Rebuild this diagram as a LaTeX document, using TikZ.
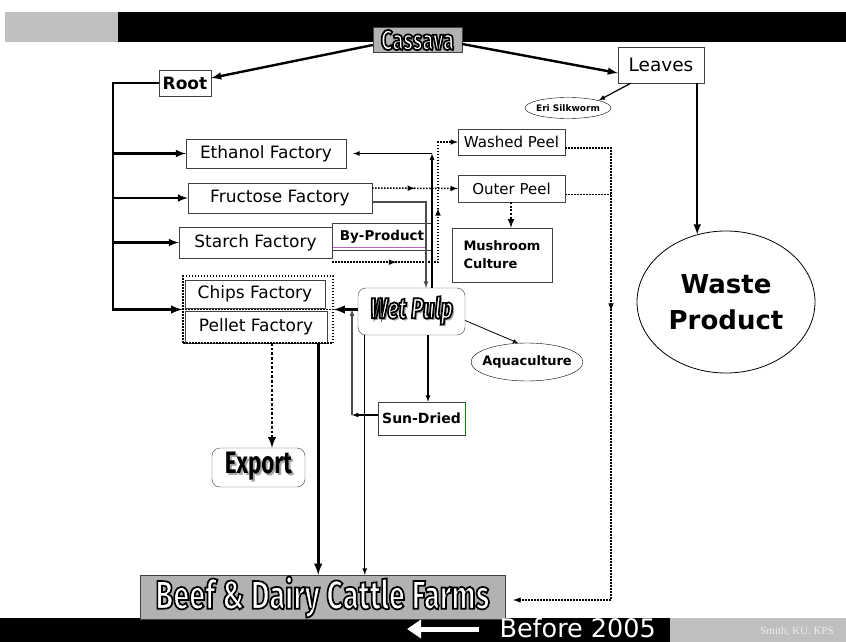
\documentclass[tikz,border=0pt]{standalone}
\usepackage{fontspec}
\setmainfont{DejaVu Sans}
\newfontfamily\titlefont{Fira Sans}[FakeStretch=0.72]
\newfontfamily\credfont{Liberation Serif}
\usetikzlibrary{shapes.geometric,decorations.markings,arrows.meta}

\definecolor{bandgray}{gray}{0.75}
\definecolor{boxgray}{gray}{0.70}
\definecolor{edgegray}{gray}{0.25}

% white letters with a black rim
\newcommand*{\outlined}[1]{{\color{white}\special{pdf:literal direct 0 G 2 Tr 1.7 w}#1\special{pdf:literal direct 0 Tr}}}
\newcommand*{\dropshadow}[2]{\makebox[0pt][l]{\hspace{2pt}\raisebox{-2pt}{\color{gray!70}#1}}#2}

\begin{document}
\begin{tikzpicture}
[
	x=1pt,y=-1pt,>=latex,
	plainbox/.style={draw=edgegray,fill=white,inner sep=0pt,font=\fontsize{17}{20}\selectfont},
	boldbox/.style={plainbox,font=\bfseries\fontsize{13}{16}\selectfont},
	titlebox/.style={draw=edgegray,fill=boxgray,inner sep=0pt},
	oval/.style={ellipse,draw,inner sep=0pt},
	dotline/.style={line width=1.5pt,dash pattern=on 1.5pt off 1.5pt},
	thickdots/.style={line width=2.6pt,dash pattern=on 2.6pt off 2pt},
	graylink/.style={gray!60!black,line width=1.2pt},
	thin/.style={line width=1.2pt},
	heavy/.style={line width=2.4pt},
	marks/.style={postaction={decorate},decoration={markings,mark=at position #1 with {\arrow{latex}}}},
	twomarks/.style 2 args={postaction={decorate},decoration={markings,
		mark=at position #1 with {\arrow{latex}},mark=at position #2 with {\arrow{latex}}}}
]
	\useasboundingbox (0,0) rectangle (846,642);

	% bands
	\fill[bandgray] (5,12) rectangle (118,42);
	\fill[black] (118,12) rectangle (846,42);
	\fill[black] (0,618) rectangle (670,642);
	\fill[bandgray] (670,618) rectangle (846,642);

	% top
	\node[titlebox,minimum width=89pt,minimum height=25pt,
		font=\titlefont\bfseries\fontsize{28}{28}\selectfont] (cassava) at (417.5,40) {\outlined{Cassava}};
	\node[plainbox,font=\bfseries\fontsize{17}{20}\selectfont,minimum width=52pt,minimum height=26pt] (root) at (185,83) {Root};
	\node[plainbox,font=\fontsize{18.5}{22}\selectfont,minimum width=86pt,minimum height=36pt] (leaves) at (661,65) {Leaves};
	\node[oval,font=\bfseries\fontsize{9}{11}\selectfont,inner xsep=-1.5pt,minimum width=86pt,minimum height=21pt] (eri) at (568,108) {Eri Silkworm};
	\node[oval,thick,align=center,font=\bfseries\fontsize{26}{36}\selectfont,minimum width=178pt,minimum height=142pt] (waste) at (726,302) {Waste\\Product};

	% factories
	\node[plainbox,minimum width=160pt,minimum height=29pt] (ethanol) at (266,153.5) {Ethanol Factory};
	\node[plainbox,minimum width=184pt,minimum height=30pt] (fructose) at (280,198) {Fructose Factory};
	\node[plainbox,minimum width=153pt,minimum height=31pt] (starch) at (255.5,242.5) {Starch Factory};
	\node[boldbox,font=\bfseries\fontsize{13.5}{16}\selectfont,minimum width=100pt,minimum height=27pt] (byprod) at (382,236.5) {By-Product};
	\node[plainbox,minimum width=140pt,minimum height=28pt] (chips) at (255,294) {Chips Factory};
	\node[plainbox,minimum width=142pt,minimum height=32pt] (pellet) at (256,327) {Pellet Factory};
	\node[draw,dotline,minimum width=150pt,minimum height=67pt] (plant) at (258,309.5) {};
	\draw[dotline] (plant.west) -- (plant.east);

	% peels
	\node[plainbox,font=\fontsize{15}{18}\selectfont,minimum width=107pt,minimum height=26pt] (washed) at (511.5,142) {Washed Peel};
	\node[plainbox,font=\fontsize{15}{18}\selectfont,minimum width=107pt,minimum height=27pt] (outer) at (511.5,188.5) {Outer Peel};
	\node[boldbox,align=left,font=\bfseries\fontsize{13}{18}\selectfont,minimum width=100pt,minimum height=54pt] (mushroom) at (502,255) {Mushroom\\Culture};

	% pulp
	\node[draw=edgegray,fill=white,rounded corners=8pt,inner sep=0pt,minimum width=107pt,minimum height=47pt,
		font=\titlefont\bfseries\itshape\fontsize{29}{29}\selectfont] (wetpulp) at (411.5,311.5) {\dropshadow{Wet Pulp}{\outlined{Wet Pulp}}};
	\node[oval,font=\bfseries\fontsize{13}{15}\selectfont,inner xsep=-6pt,minimum width=112pt,minimum height=38pt] (aqua) at (527,362) {Aquaculture};
	\node[boldbox,font=\bfseries\fontsize{14}{17}\selectfont,minimum width=87pt,minimum height=33pt] (sundried) at (421.5,418.5) {Sun-Dried};
	\draw[green!50!black,line width=1pt] (sundried.north east) -- (sundried.south east);
	\node[draw=edgegray,fill=white,rounded corners=8pt,inner sep=0pt,minimum width=93pt,minimum height=39pt,
		font=\titlefont\bfseries\fontsize{31}{31}\selectfont] (export) at (258.5,467.5) {\dropshadow{Export}{Export}};
	\node[titlebox,minimum width=365pt,minimum height=44pt,
		font=\titlefont\bfseries\fontsize{40}{40}\selectfont] (beef) at (322.5,597) {\outlined{Beef \& Dairy Cattle Farms}};

	% footer
	\node[text=white,anchor=west,font=\fontsize{25.5}{27}\selectfont] (before) at (496,628) {Before 2005};
	\coordinate (tail) at (479,629);
	\coordinate (head) at (407,629);
	\draw[white,line width=5pt,-{Triangle[length=14pt,width=18pt]}] (tail) -- (head);
	\node[text=gray!15,font=\credfont\fontsize{11}{13}\selectfont] (credit) at (797,632) {Smith, KU. KPS};

	% cassava links
	\draw[heavy,->] ([yshift=-5pt]cassava.west) -- ([yshift=5pt]root.east);
	\draw[heavy,->] ([yshift=-4pt]cassava.east) -- ([yshift=-8pt]leaves.west);
	\draw[thin,->] ([xshift=13pt]leaves.south west) -- (eri.north east);
	\coordinate (lv) at ([xshift=-7pt]leaves.south east);
	\draw[heavy,->] (lv) -- (lv |- waste.113);

	% root to factories
	\coordinate (bus) at (113,0);
	\draw[line width=2.8pt,->] (root.west) -| (bus |- plant.west) -- (plant.west);
	\foreach \f in {ethanol,fructose,starch}
		\draw[heavy,->] (bus |- \f.west) -- (\f.west);

	% peel lines
	\draw[dotline,->,marks=0.5] ([yshift=10pt]fructose.east) -- (outer.west);
	\coordinate (vd) at (438,0);
	\draw[dotline,->,twomarks={0.26}{0.65}] ([yshift=-4pt]starch.south east) -| (vd |- washed.west) -- (washed.west);
	\coordinate (rd) at (611,0);
	\coordinate (bx) at ([xshift=8pt,yshift=-3pt]beef.east);
	\draw[dotline,->,marks=0.35] ([yshift=-6pt]washed.east) -| (rd |- bx) -- (bx);
	\coordinate (oe) at ([yshift=-6pt]outer.east);
	\draw[dotline] (oe) -- (rd |- oe);
	\draw[line width=2pt,dash pattern=on 2pt off 1.6pt,->] ([xshift=-0.5pt]outer.south) -- ([xshift=-0.5pt]outer.south |- mushroom.north);

	% wet pulp links
	\coordinate (wp) at ([xshift=20.5pt]wetpulp.north);
	\draw[thin,->] (wp) -- (wp |- ethanol.east);
	\draw[thin,->] (wp |- ethanol.east) -- ([xshift=7pt]ethanol.east);
	\draw[graylink,->] ([yshift=-4pt]fructose.east) -| ([xshift=14.5pt]wetpulp.north);
	\draw[line width=2.8pt,->] (wetpulp.west |- plant.east) -- (plant.east);
	\draw[thin,->] ([xshift=16.5pt]wetpulp.south) -- ([xshift=16.5pt]wetpulp.south |- sundried.north);
	\draw[thin,->] ([xshift=7pt]wetpulp.south west) -- ([xshift=7pt]wetpulp.south west |- beef.north);
	\draw[thick,->] ([yshift=-9pt]wetpulp.east) -- (aqua.115);
	\coordinate (sd) at (352,0);
	\coordinate (sw) at ([yshift=3.5pt]sundried.west);
	\draw[thin,->] (sw) -- (sd |- sw);
	\draw[graylink,->] (sd |- sw) -- (sd |- plant.east);

	% pellet outputs
	\draw[line width=2.8pt,->] ([xshift=-9pt]pellet.south east) -- ([xshift=-9pt]pellet.south east |- beef.north);
	\draw[thickdots,->] ([xshift=16pt]pellet.south) -- ([xshift=16pt]pellet.south |- export.north);

	% underline
	\draw[violet!60,line width=1pt] ([xshift=1pt,yshift=2.5pt]byprod.south west) -- ([xshift=-7pt,yshift=2.5pt]byprod.south east);

\end{tikzpicture}
\end{document}
